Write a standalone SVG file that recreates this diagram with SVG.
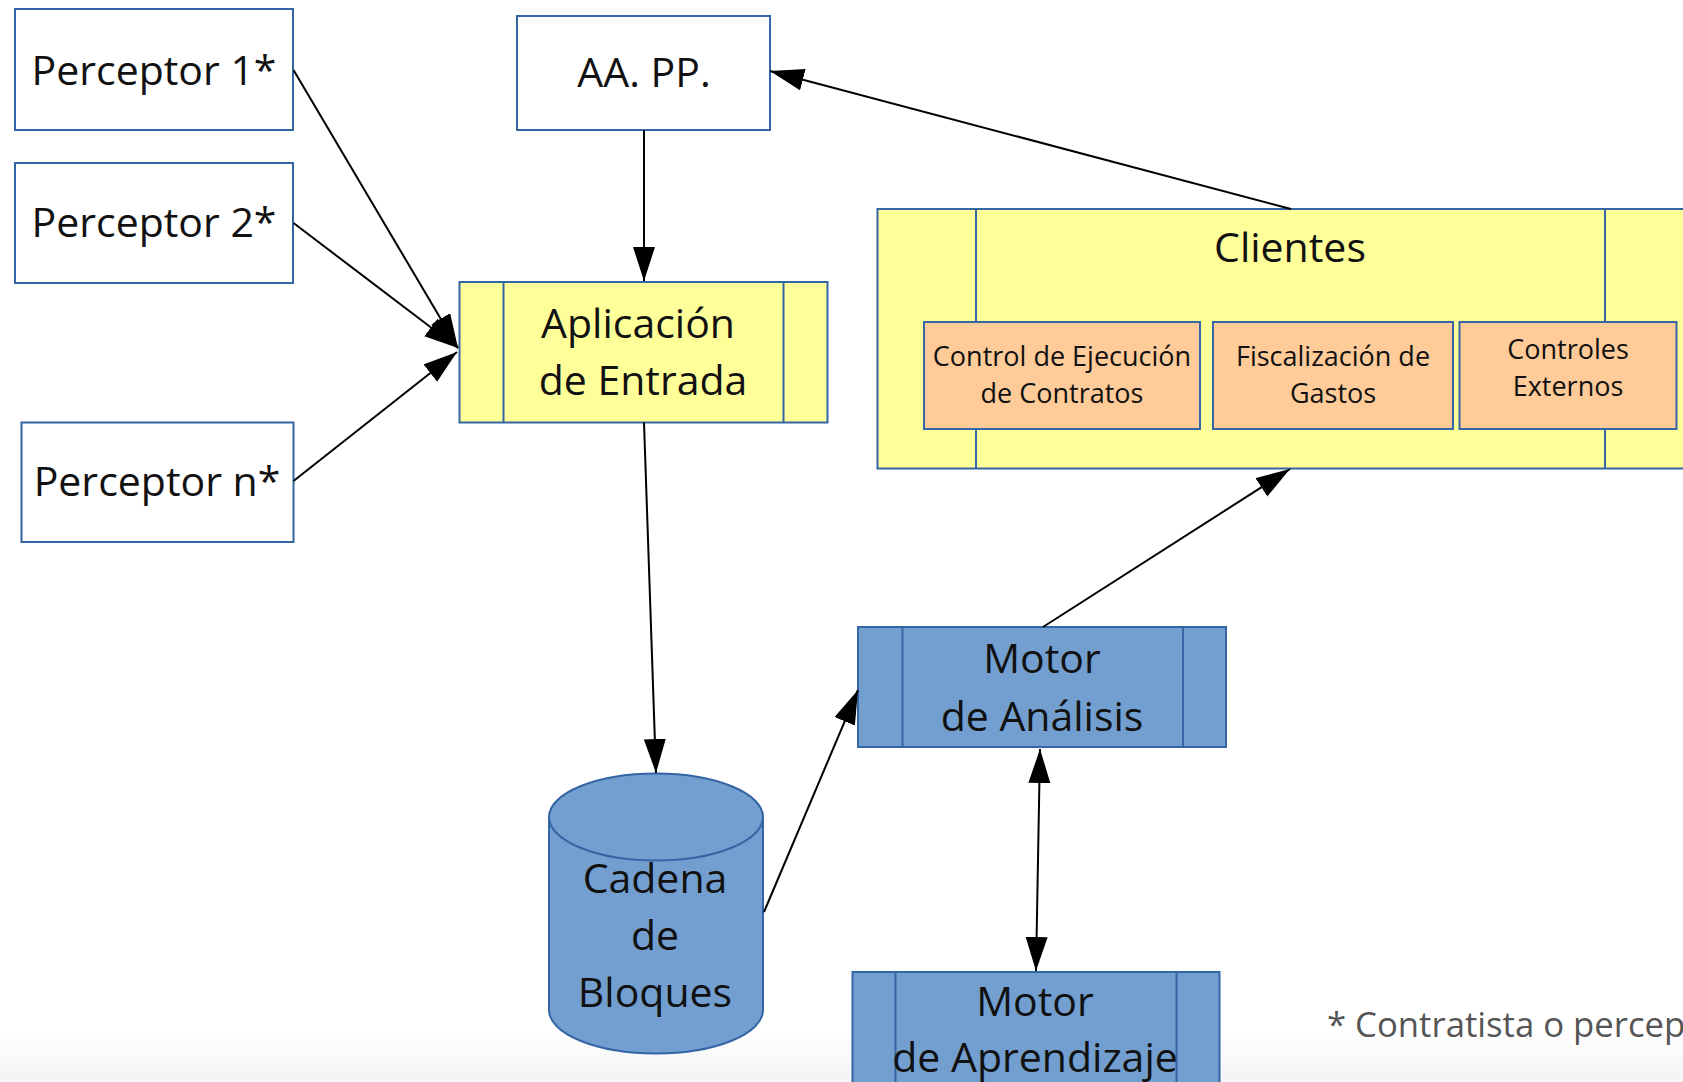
<svg xmlns="http://www.w3.org/2000/svg" width="1683" height="1082" viewBox="0 0 1683 1082">
  <defs>
    <style>
      .box { fill: #ffffff; stroke: #3465a4; stroke-width: 2; }
      .yel { fill: #ffff99; stroke: #3465a4; stroke-width: 2; }
      .org { fill: #ffcc99; stroke: #3465a4; stroke-width: 2; }
      .blu { fill: #729fcf; stroke: #3465a4; stroke-width: 2; }
      .div { stroke: #3465a4; stroke-width: 2; fill: none; }
      .t { font-family: "Open Sans", "Noto Sans", "DejaVu Sans", sans-serif; fill: #111111; text-anchor: middle; }
      .big { font-size: 41px; }
      .small { font-size: 27px; }
      .note { font-family: "Open Sans", "Noto Sans", sans-serif; font-size: 34.7px; fill: #555555; }
      .con { stroke: #000000; stroke-width: 2; fill: none; marker-end: url(#arr); }
    </style>
    <marker id="arr" markerUnits="userSpaceOnUse" markerWidth="36" markerHeight="24" refX="34" refY="11" orient="auto-start-reverse">
      <path d="M0,0 L34,11 L0,22 z" fill="#000000"/>
    </marker>
    <linearGradient id="bg" x1="0" y1="0" x2="0" y2="1">
      <stop offset="0" stop-color="#ffffff"/>
      <stop offset="1" stop-color="#f4f4f4"/>
    </linearGradient>
  </defs>

  <rect x="0" y="0" width="1683" height="1082" fill="#ffffff"/>
  <rect x="0" y="1030" width="1683" height="52" fill="url(#bg)"/>

  <g id="perceptor1">
    <rect class="box" x="15" y="9" width="278" height="121"/>
    <text class="t big" x="154" y="85">Perceptor 1*</text>
  </g>
  <g id="perceptor2">
    <rect class="box" x="15" y="163" width="278" height="120"/>
    <text class="t big" x="154" y="237">Perceptor 2*</text>
  </g>
  <g id="perceptorn">
    <rect class="box" x="21.5" y="422.5" width="272" height="119.5"/>
    <text class="t big" x="157" y="496">Perceptor n*</text>
  </g>
  <g id="aapp">
    <rect class="box" x="517" y="16" width="253" height="114"/>
    <text class="t big" x="644" y="87">AA. PP.</text>
  </g>
  <g id="aplicacion">
    <rect class="yel" x="459.5" y="282" width="368" height="140.5"/>
    <line class="div" x1="503.5" y1="282" x2="503.5" y2="422.5"/>
    <line class="div" x1="783.5" y1="282" x2="783.5" y2="422.5"/>
    <text class="t big" x="638" y="338">Aplicación</text>
    <text class="t big" x="643" y="395">de Entrada</text>
  </g>
  <g id="clientes">
    <rect class="yel" x="877.5" y="209" width="830" height="259.5"/>
    <line class="div" x1="976" y1="209" x2="976" y2="468.5"/>
    <line class="div" x1="1605" y1="209" x2="1605" y2="468.5"/>
    <text class="t big" x="1290" y="262">Clientes</text>
  </g>
  <g id="control-ejecucion">
    <rect class="org" x="924" y="322" width="276" height="107"/>
    <text class="t small" x="1062" y="366">Control de Ejecución</text>
    <text class="t small" x="1062" y="403">de Contratos</text>
  </g>
  <g id="fiscalizacion">
    <rect class="org" x="1213" y="322" width="240" height="107"/>
    <text class="t small" x="1333" y="366">Fiscalización de</text>
    <text class="t small" x="1333" y="403">Gastos</text>
  </g>
  <g id="controles-externos">
    <rect class="org" x="1459.5" y="322" width="217" height="107"/>
    <text class="t small" x="1568" y="359">Controles</text>
    <text class="t small" x="1568" y="396">Externos</text>
  </g>
  <g id="cadena">
    <path class="blu" d="M549,817 L549,1010 A107,43.5 0 0 0 763,1010 L763,817"/>
    <ellipse class="blu" cx="656" cy="817" rx="107" ry="43.5"/>
    <text class="t big" x="655" y="893">Cadena</text>
    <text class="t big" x="655" y="950">de</text>
    <text class="t big" x="655" y="1007">Bloques</text>
  </g>
  <g id="motor-analisis">
    <rect class="blu" x="858" y="627" width="368" height="120"/>
    <line class="div" x1="902.5" y1="627" x2="902.5" y2="747"/>
    <line class="div" x1="1183" y1="627" x2="1183" y2="747"/>
    <text class="t big" x="1042" y="673">Motor</text>
    <text class="t big" x="1042" y="731">de Análisis</text>
  </g>
  <g id="motor-aprendizaje">
    <rect class="blu" x="852.5" y="972" width="367" height="130"/>
    <line class="div" x1="895.5" y1="972" x2="895.5" y2="1102"/>
    <line class="div" x1="1176.5" y1="972" x2="1176.5" y2="1102"/>
    <text class="t big" x="1035" y="1016">Motor</text>
    <text class="t big" x="1035" y="1072">de Aprendizaje</text>
  </g>

  <g id="connectors">
    <line class="con" x1="293.5" y1="70" x2="458" y2="348"/>
    <line class="con" x1="293.5" y1="223" x2="458" y2="348"/>
    <line class="con" x1="293.5" y1="481" x2="457" y2="352"/>
    <line class="con" x1="644" y1="130" x2="644" y2="281"/>
    <line class="con" x1="1291" y1="209" x2="770" y2="71"/>
    <line class="con" x1="644" y1="422.5" x2="656" y2="773"/>
    <line class="con" x1="764" y1="912" x2="858" y2="690"/>
    <line class="con" x1="1043" y1="627" x2="1290" y2="469"/>
    <line class="con" x1="1040" y1="749" x2="1036" y2="971" style="marker-start: url(#arr)"/>
  </g>

  <text class="note" x="1327" y="1037">* Contratista o percep</text>
</svg>
